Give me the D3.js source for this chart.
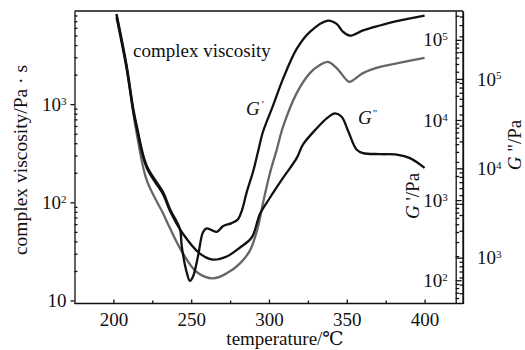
<!DOCTYPE html>
<html>
<head>
<meta charset="utf-8">
<script src="https://cdn.jsdelivr.net/npm/d3@7"></script>
<style>
  body { margin: 0; background: #fff; }
  svg text { font-family: "Liberation Serif", "DejaVu Serif", serif; fill: #111; }
</style>
</head>
<body>
<div id="chart"></div>
<script>
// Curve: G' (top black, inner right axis)
const tempG1 = [202, 208.5, 212.8, 215, 221.4, 231.9, 236.4, 242.8, 243.9, 247.1, 249.2, 251.3, 254.4, 257.6, 260,
  266.4, 270.4, 276, 280.1, 282.5, 285.7, 289.7, 292.9, 296.1, 302.6, 309, 317.8, 326.3, 337.9, 343.5, 347.6, 352.1,
  360.4, 371.3, 382.1, 400];
const g1 = [211000, 47800, 13700, 8490, 2680, 1260, 772, 434, 268, 126, 98, 113, 201, 398, 443,
  402, 473, 516, 579, 735, 1260, 2240, 3980, 7080, 15100, 32600, 77200, 126000, 174000, 158000, 126000, 113000,
  131000, 151000, 171000, 201000];

// complex viscosity (grey, left axis)
const tempEta = [202, 208.5, 212.8, 215, 221.4, 231.9, 236.4, 244.7, 253.5, 264, 272.8, 281.4, 287.8, 292.9, 296.1,
  300.6, 304.9, 309, 317.8, 326.3, 332.7, 337.9, 343.5, 349.9, 352.1, 360.4, 371.3, 382.1, 400];
const eta = [8090, 2400, 810, 502, 168, 77.3, 54.3, 30.2, 19.5, 16.8, 18.9, 23.9, 32.4, 56, 97.7,
  198, 340, 586, 1295, 2070, 2500, 2700, 2330, 1760, 1690, 2070, 2400, 2600, 2960];

// G'' (lower black, outer right axis)
const tempG2 = [202, 208.5, 212.8, 215, 221.4, 231.9, 236.4, 244.7, 255.6, 264, 272.8, 281.4, 288.9, 294.2, 300.6,
  309, 317.8, 321.9, 330.7, 337.1, 342.4, 346.7, 351, 356.4, 360.4, 371.3, 382.1, 390.6, 400];
const g2 = [489000, 130000, 43000, 28000, 10100, 5140, 3330, 1850, 1110, 950, 1030, 1300, 1680, 3080, 4680,
  7800, 13000, 18500, 28000, 36200, 41100, 37800, 25800, 16100, 14800, 14400, 14200, 13000, 10100];

const xTicks = [200, 250, 300, 350, 400];
const etaTicks = [10, 100, 1000];
const g1Ticks = [100, 1000, 10000, 100000];
const g2Ticks = [1000, 10000, 100000];

const W = 525, H = 350;
const pLeft = 74.5, pRight = 455.7, pTop = 11, pBottom = 303.5, pOuter = 463;

const svg = d3.select("#chart").append("svg")
    .attr("width", W).attr("height", H);

const x = d3.scaleLinear().domain([175, 420]).range([pLeft, pRight]);
const yEta = d3.scaleLog().domain([9.32, 8890]).range([pBottom, pTop]);
const yG1 = d3.scaleLog().domain([10 ** 1.71, 10 ** 5.36]).range([pBottom, pTop]);
const yG2 = d3.scaleLog().domain([10 ** 2.487, 10 ** 5.76]).range([pBottom, pTop]);

// minor ticks 2..9 of each decade inside a domain
function minors(scale) {
  const [a, b] = scale.domain();
  const out = [];
  for (let e = Math.floor(Math.log10(a)); e <= Math.ceil(Math.log10(b)); e++) {
    for (let m = 2; m <= 9; m++) {
      const v = m * 10 ** e;
      if (v >= a && v <= b) out.push(v);
    }
  }
  return out;
}

function supLabel(sel) {
  sel.selectAll(".tick text").each(function(d) {
    const t = d3.select(this).text("");
    const e = Math.round(Math.log10(d));
    t.append("tspan").text("10");
    if (e !== 1) {
      t.append("tspan").attr("dy", "-0.55em").attr("font-size", 11).text(e);
    }
  });
}

// frame
svg.append("line").attr("x1", pLeft).attr("x2", pOuter).attr("y1", pTop).attr("y2", pTop)
    .attr("stroke", "#111").attr("stroke-width", 1.3);
svg.append("line").attr("x1", pOuter).attr("x2", pOuter).attr("y1", pTop).attr("y2", pBottom)
    .attr("stroke", "#111").attr("stroke-width", 1.3);

// x axis
const gx = svg.append("g").attr("transform", `translate(0,${pBottom})`)
    .call(d3.axisBottom(x).tickValues(xTicks).tickSizeInner(-4).tickSizeOuter(0).tickPadding(9));
gx.select(".domain").attr("d", `M${pLeft},0H${pOuter}`);
svg.append("g").attr("transform", `translate(0,${pBottom})`)
    .call(d3.axisBottom(x).tickValues([225, 275, 325, 375]).tickSize(-3).tickFormat(""))
    .select(".domain").remove();
gx.selectAll("text").attr("font-size", 19);

// left axis
const gl = svg.append("g").attr("transform", `translate(${pLeft},0)`)
    .call(d3.axisLeft(yEta).tickValues(etaTicks).tickSizeInner(4).tickSizeOuter(0).tickPadding(4));
gl.selectAll("text").attr("font-size", 19).attr("dy", "0.32em");
supLabel(gl);
svg.append("g").attr("transform", `translate(${pLeft},0)`)
    .call(d3.axisLeft(yEta).tickValues(minors(yEta)).tickSize(-3).tickFormat(""))
    .select(".domain").remove();

// inner right axis (G')
const g1a = svg.append("g").attr("transform", `translate(${pRight},0)`)
    .call(d3.axisLeft(yG1).tickValues(g1Ticks).tickSizeInner(-6).tickSizeOuter(0).tickPadding(8));
g1a.selectAll("text").attr("font-size", 19).attr("dy", "0.32em");
supLabel(g1a);
svg.append("g").attr("transform", `translate(${pRight},0)`)
    .call(d3.axisLeft(yG1).tickValues(minors(yG1)).tickSize(-3.5).tickFormat(""))
    .select(".domain").remove();

// outer right axis (G'')
const g2a = svg.append("g").attr("transform", `translate(${pOuter},0)`)
    .call(d3.axisRight(yG2).tickValues(g2Ticks).tickSizeInner(-6).tickSizeOuter(0).tickPadding(14));
g2a.selectAll("text").attr("font-size", 19).attr("dy", "0.32em");
supLabel(g2a);
svg.append("g").attr("transform", `translate(${pOuter},0)`)
    .call(d3.axisRight(yG2).tickValues(minors(yG2)).tickSize(-3.5).tickFormat(""))
    .select(".domain").remove();

svg.selectAll(".domain, .tick line").attr("stroke", "#111").attr("stroke-width", 1.3);

// curves
const line = (xs, ys, yScale) => d3.line()
    .x((d, i) => x(xs[i]))
    .y(d => yScale(d))
    .curve(d3.curveCatmullRom.alpha(0.5))(ys);

svg.append("path").attr("d", line(tempEta, eta, yEta))
    .attr("fill", "none").attr("stroke", "#666").attr("stroke-width", 2.3);
svg.append("path").attr("d", line(tempG2, g2, yG2))
    .attr("fill", "none").attr("stroke", "#111").attr("stroke-width", 2.3);
svg.append("path").attr("d", line(tempG1, g1, yG1))
    .attr("fill", "none").attr("stroke", "#111").attr("stroke-width", 2.3);

// annotations
svg.append("text").attr("x", 133).attr("y", 57).attr("font-size", 19).text("complex viscosity");

const gp = svg.append("text").attr("x", 246).attr("y", 115).attr("font-size", 19);
gp.append("tspan").attr("font-style", "italic").text("G");
gp.append("tspan").attr("font-size", 11).attr("dy", -7).attr("dx", 2).text("'");

const gpp = svg.append("text").attr("x", 358).attr("y", 124).attr("font-size", 19);
gpp.append("tspan").attr("font-style", "italic").text("G");
gpp.append("tspan").attr("font-size", 11).attr("dy", -7).attr("dx", 1).text("\"");

// axis titles
svg.append("text").attr("x", 285).attr("y", 345).attr("text-anchor", "middle")
    .attr("font-size", 19).text("temperature/℃");

svg.append("text").attr("transform", "translate(27,160) rotate(-90)")
    .attr("text-anchor", "middle").attr("font-size", 19.5).text("complex viscosity/Pa · s");

const t1 = svg.append("text").attr("transform", "translate(419,196) rotate(-90)")
    .attr("text-anchor", "middle").attr("font-size", 19);
t1.append("tspan").attr("font-style", "italic").text("G");
t1.append("tspan").text(" '/Pa");

const t2 = svg.append("text").attr("transform", "translate(521,145) rotate(-90)")
    .attr("text-anchor", "middle").attr("font-size", 19);
t2.append("tspan").attr("font-style", "italic").text("G");
t2.append("tspan").text(" \"/Pa");
</script>
</body>
</html>
